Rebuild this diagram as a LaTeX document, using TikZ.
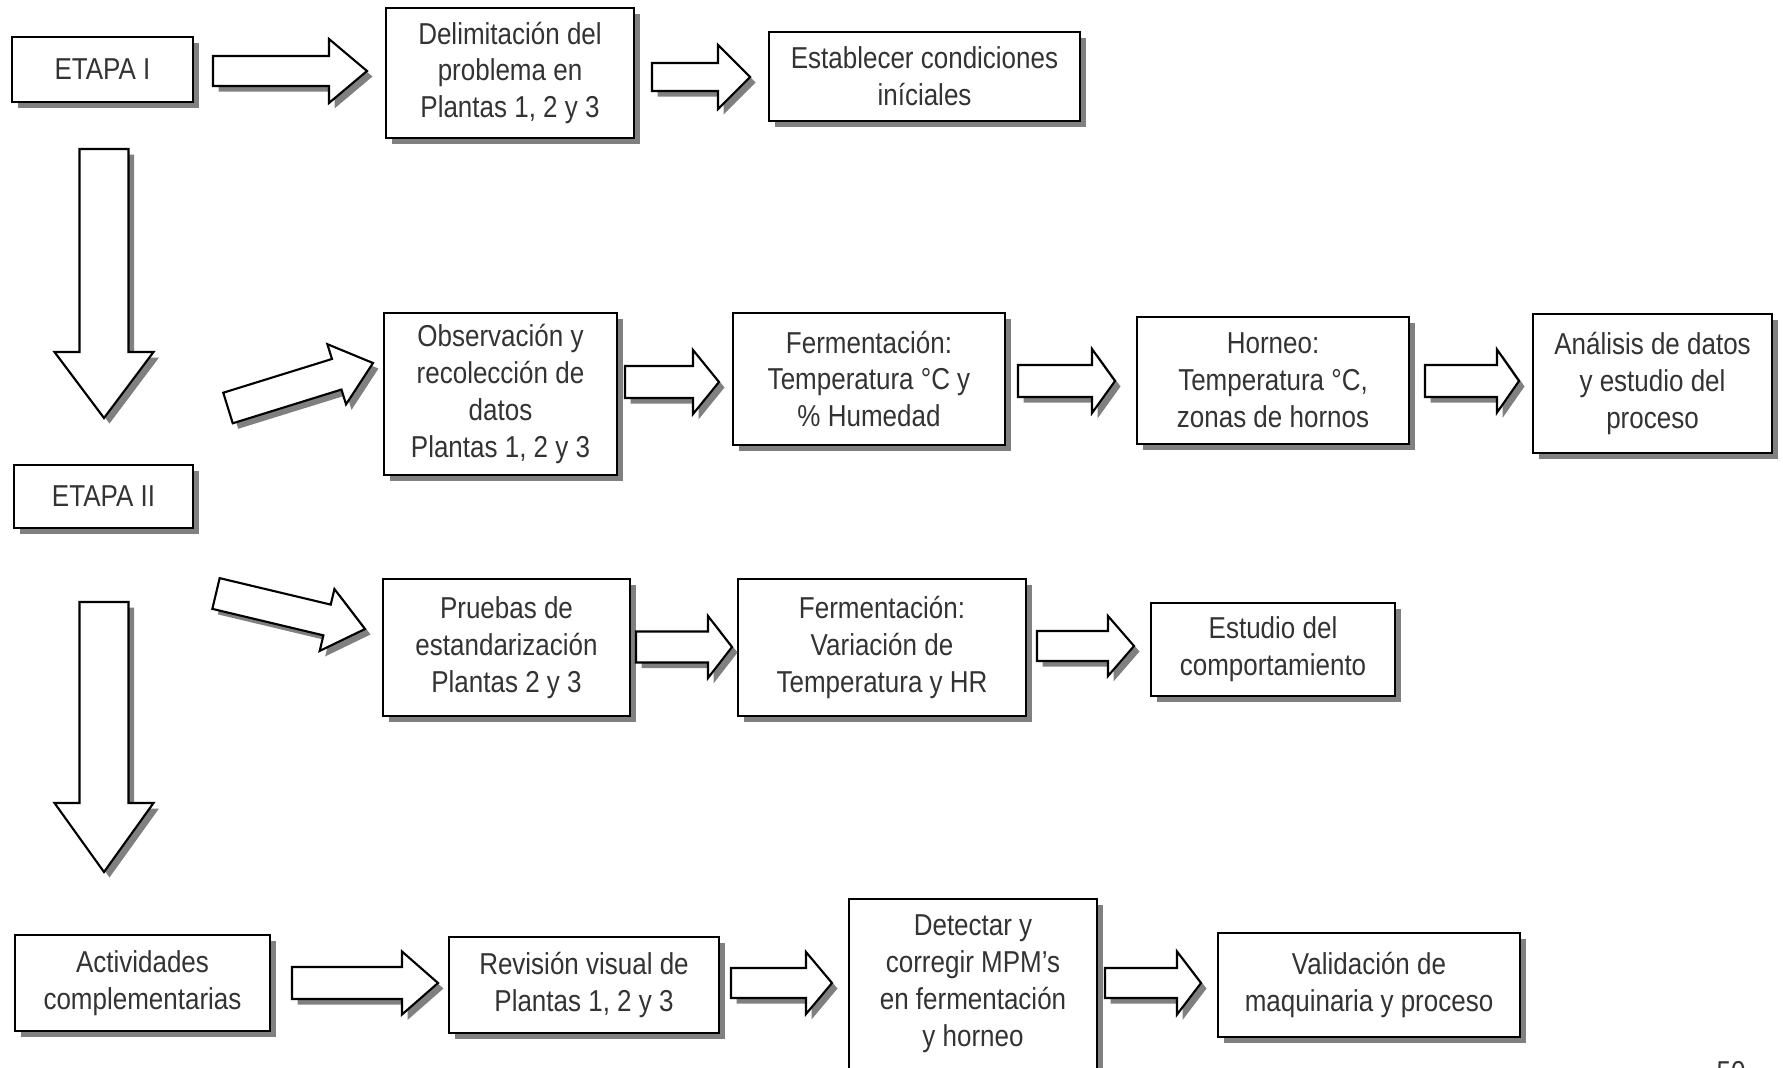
\documentclass[tikz,border=0pt]{standalone}
\usepackage{fontspec}
\setmainfont{Liberation Sans}[FakeStretch=0.86]
\usetikzlibrary{calc,shadows}

\tikzset{
  sombra/.style={drop shadow={shadow xshift=0.55mm, shadow yshift=-0.55mm, fill=black!50, opacity=1}},
  caja/.style={draw, fill=white, line width=0.6pt, sombra, align=center, inner sep=0pt,
    text=black!80, font=\fontsize{8.6}{10.5}\selectfont},
  flechaest/.style={draw, fill=white, line width=0.6pt, line join=miter, sombra},
}

% flecha gruesa: inicio, punta, medio ancho, medio ancho punta, largo punta
\newcommand{\flecha}[5]{%
  \coordinate (fb) at ($(#2)!#5!(#1)$);
  \filldraw[flechaest] ($(#1)!#3!90:(#2)$) -- ($(fb)!#3!90:(#2)$) -- ($(fb)!#4!90:(#2)$) -- (#2)
    -- ($(fb)!#4!-90:(#2)$) -- ($(fb)!#3!-90:(#2)$) -- ($(#1)!#3!-90:(#2)$) -- cycle;
}

\begin{document}
\begin{tikzpicture}[x=0.1mm, y=-0.1mm]
\useasboundingbox (0,0) rectangle (1783,1067);
% Etapa I
\node[caja, minimum width=18.1mm, minimum height=6.5mm] (etapaI) at (102.5,69.5) {ETAPA I};
\node[caja, minimum width=24.8mm, minimum height=13mm] (delim) at (510,73) {Delimitación del\\problema en\\Plantas 1, 2 y 3};
\node[caja, minimum width=31.1mm, minimum height=8.9mm] (condic) at (924.5,76.5) {Establecer condiciones\\iníciales};
% Etapa II
\node[caja, minimum width=17.9mm, minimum height=6.3mm] (etapaII) at (103.5,496.5) {ETAPA II};
\node[caja, minimum width=23.3mm, minimum height=16.2mm] (observ) at (500.5,394) {Observación y\\recolección de\\datos\\Plantas 1, 2 y 3};
\node[caja, minimum width=27.2mm, minimum height=13.2mm] (fermtemp) at (869,379) {Fermentación:\\Temperatura °C y\\\% Humedad};
\node[caja, minimum width=27.2mm, minimum height=12.7mm] (horneo) at (1273,380.5) {Horneo:\\Temperatura °C,\\zonas de hornos};
\node[caja, minimum width=23.9mm, minimum height=13.9mm] (analisis) at (1652.5,383.5) {Análisis de datos\\y estudio del\\proceso};
\node[caja, minimum width=24.7mm, minimum height=13.7mm] (pruebas) at (506.5,647.5) {Pruebas de\\estandarización\\Plantas 2 y 3};
\node[caja, minimum width=28.8mm, minimum height=13.7mm] (fermvar) at (882,647.5) {Fermentación:\\Variación de\\Temperatura y HR};
\node[caja, minimum width=24.4mm, minimum height=9.3mm] (estudio) at (1273,649.5) {Estudio del\\comportamiento};
% Actividades complementarias
\node[caja, minimum width=25.5mm, minimum height=9.6mm] (activ) at (142.5,983) {Actividades\\complementarias};
\node[caja, minimum width=27mm, minimum height=9.6mm] (revision) at (584,985) {Revisión visual de\\Plantas 1, 2 y 3};
\node[caja, minimum width=24.8mm, minimum height=17mm] (detectar) at (973,984) {Detectar y\\corregir MPM’s\\en fermentación\\y horneo};
\node[caja, minimum width=30.2mm, minimum height=10.4mm] (valida) at (1369,985) {Validación de\\maquinaria y proceso};
\node[anchor=base, text=black!80, font=\fontsize{8.6}{10.5}\selectfont] (pagina) at (1731,1082) {50};
% Flechas
\coordinate (f1i) at (213,71);   \coordinate (f1f) at (367,71);
\coordinate (f2i) at (652,77);   \coordinate (f2f) at (750,77);
\coordinate (v1i) at (104,149);  \coordinate (v1f) at (104,418);
\coordinate (d1i) at (228,408);  \coordinate (d1f) at (373,363);
\coordinate (f3i) at (625,382);  \coordinate (f3f) at (719,382);
\coordinate (f4i) at (1018,381); \coordinate (f4f) at (1115,381);
\coordinate (f5i) at (1425,381); \coordinate (f5f) at (1519,381);
\coordinate (d2i) at (216,593.5); \coordinate (d2f) at (365,629);
\coordinate (f6i) at (636,647);  \coordinate (f6f) at (732,647);
\coordinate (f7i) at (1037,646); \coordinate (f7f) at (1134,646);
\coordinate (v2i) at (104,602);  \coordinate (v2f) at (104,872);
\coordinate (f8i) at (292,983);  \coordinate (f8f) at (438,983);
\coordinate (f9i) at (731,983);  \coordinate (f9f) at (832,983);
\coordinate (f10i) at (1105,983); \coordinate (f10f) at (1201,983);
\flecha{f1i}{f1f}{1.5mm}{3.2mm}{3.8mm}
\flecha{f2i}{f2f}{1.4mm}{3.2mm}{3.2mm}
\flecha{v1i}{v1f}{2.45mm}{4.95mm}{6.6mm}
\flecha{d1i}{d1f}{1.6mm}{3.15mm}{3.8mm}
\flecha{f3i}{f3f}{1.6mm}{3.2mm}{2.6mm}
\flecha{f4i}{f4f}{1.6mm}{3.2mm}{2.3mm}
\flecha{f5i}{f5f}{1.6mm}{3.15mm}{2.2mm}
\flecha{d2i}{d2f}{1.58mm}{3.18mm}{3.9mm}
\flecha{f6i}{f6f}{1.55mm}{3.1mm}{2.4mm}
\flecha{f7i}{f7f}{1.5mm}{3.0mm}{2.6mm}
\flecha{v2i}{v2f}{2.45mm}{4.95mm}{6.9mm}
\flecha{f8i}{f8f}{1.6mm}{3.15mm}{3.6mm}
\flecha{f9i}{f9f}{1.5mm}{3.1mm}{2.6mm}
\flecha{f10i}{f10f}{1.5mm}{3.15mm}{2.4mm}
\end{tikzpicture}
\end{document}
